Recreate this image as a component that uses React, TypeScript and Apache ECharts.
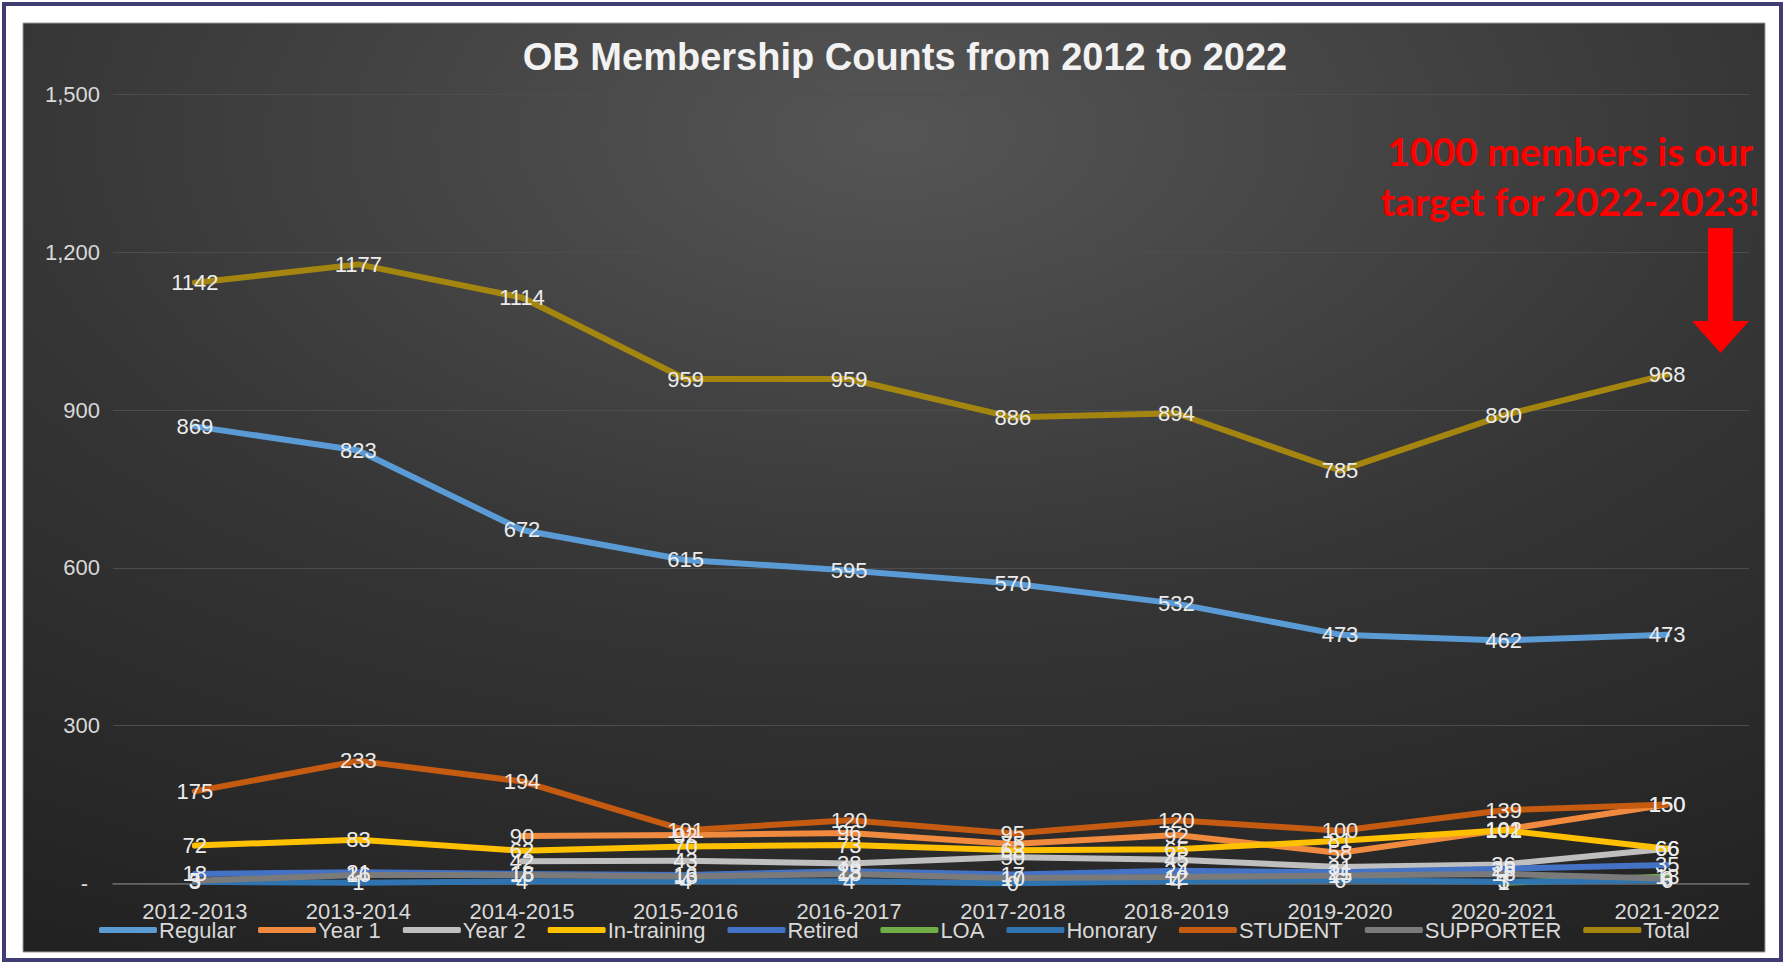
import React, { useEffect, useRef } from 'react';
import * as echarts from 'echarts';

const categories = ['2012-2013', '2013-2014', '2014-2015', '2015-2016', '2016-2017', '2017-2018', '2018-2019', '2019-2020', '2020-2021', '2021-2022'];
const regular = [869, 823, 672, 615, 595, 570, 532, 473, 462, 473];
const year1 = [null, null, 90, 92, 96, 75, 92, 58, 102, 150];
const year2 = [null, null, 42, 43, 38, 50, 45, 31, 36, 66];
const inTraining = [72, 83, 62, 70, 73, 63, 65, 81, 101, 66];
const retired = [18, 21, 18, 16, 23, 17, 24, 21, 28, 35];
const loa = [null, null, null, null, null, null, null, null, 1, 13];
const honorary = [3, 1, 4, 4, 4, 0, 4, 6, 3, 6];
const student = [175, 233, 194, 101, 120, 95, 120, 100, 139, 150];
const supporter = [5, 16, 16, 13, 18, 10, 12, 15, 18, 9];
const total = [1142, 1177, 1114, 959, 959, 886, 894, 785, 890, 968];

const yTicks = { min: 0, max: 1500, interval: 300 };

const seriesDefs = [
  { name: 'Regular', data: regular, color: '#5b9bd5' },
  { name: 'Year 1', data: year1, color: '#f08a3e' },
  { name: 'Year 2', data: year2, color: '#bfbfbf' },
  { name: 'In-training', data: inTraining, color: '#ffc000' },
  { name: 'Retired', data: retired, color: '#4472c4' },
  { name: 'LOA', data: loa, color: '#70ad47' },
  { name: 'Honorary', data: honorary, color: '#2f73b0' },
  { name: 'STUDENT', data: student, color: '#c55a11' },
  { name: 'SUPPORTER', data: supporter, color: '#7a7a7a' },
  { name: 'Total', data: total, color: '#a3850f' },
];

const FONT = '"Liberation Sans", Arial, sans-serif';

export default function App() {
  const ref = useRef<HTMLDivElement>(null);
  useEffect(() => {
    if (!ref.current) return;
    const chart = echarts.init(ref.current, undefined, { renderer: 'svg' });
    const W = 1785;
    const H = 964;
    chart.setOption({
      animation: false,
      backgroundColor: '#ffffff',
      title: {
        text: 'OB Membership Counts from 2012 to 2022',
        left: 900,
        textAlign: 'center',
        top: 33,
        textStyle: { color: '#f2f2f2', fontSize: 38, fontWeight: 'bold', fontFamily: FONT },
      },
      graphic: [
        {
          type: 'rect', z: -20, silent: true,
          shape: { x: 4, y: 4, width: W - 8, height: H - 8 },
          style: { fill: '#ffffff', stroke: '#3f3d72', lineWidth: 4 },
        },
        {
          type: 'rect', z: -10, silent: true,
          shape: { x: 23, y: 23, width: 1742, height: 929 },
          style: {
            fill: new echarts.graphic.RadialGradient(0.5, 0.12, 1.15, [
              { offset: 0, color: '#555555' },
              { offset: 0.45, color: '#353535' },
              { offset: 1, color: '#1b1b1b' },
            ]),
            stroke: '#9a9a9a', lineWidth: 1,
          },
        },
        {
          type: 'text', z: 50, silent: true,
          style: {
            x: 1570, y: 151, text: '1000 members is our', fill: '#ff0000',
            font: 'bold 39px Lato, "Open Sans", sans-serif', align: 'center', verticalAlign: 'middle',
          },
        },
        {
          type: 'text', z: 50, silent: true,
          style: {
            x: 1570, y: 201, text: 'target for 2022-2023!', fill: '#ff0000',
            font: 'bold 39px Lato, "Open Sans", sans-serif', align: 'center', verticalAlign: 'middle',
          },
        },
        {
          type: 'rect', z: 50, silent: true,
          shape: { x: 1708, y: 228, width: 25, height: 96 },
          style: { fill: '#ff0000' },
        },
        {
          type: 'polygon', z: 50, silent: true,
          shape: { points: [[1692, 321], [1749, 321], [1720.5, 353]] },
          style: { fill: '#ff0000' },
        },
      ],
      legend: {
        left: 94,
        top: 914,
        itemGap: 22,
        itemWidth: 58,
        itemHeight: 6,
        icon: 'roundRect',
        textStyle: { color: '#d9d9d9', fontSize: 22, fontFamily: FONT, padding: [0, 0, 0, -3] },
        data: seriesDefs.map((s) => s.name),
      },
      grid: { left: 113, right: 36, top: 94.5, bottom: 80.6 },
      xAxis: {
        type: 'category',
        data: categories,
        boundaryGap: true,
        axisLine: { show: true, lineStyle: { color: '#6a6a6a', width: 1.5 } },
        axisTick: { show: false },
        axisLabel: { color: '#d9d9d9', fontSize: 22, fontFamily: FONT, margin: 17 },
        splitLine: { show: false },
      },
      yAxis: {
        type: 'value',
        min: yTicks.min,
        max: yTicks.max,
        interval: yTicks.interval,
        axisLine: { show: false },
        axisTick: { show: false },
        splitLine: { show: true, lineStyle: { color: '#4d4d4d', width: 1 } },
        axisLabel: {
          color: '#d9d9d9', fontSize: 22, fontFamily: FONT, margin: 13, align: 'right',
          formatter: (v: number) => (v === 0 ? '{d|-}' : v.toLocaleString('en-US')),
          rich: { d: { color: '#d9d9d9', fontSize: 22, fontFamily: FONT, padding: [0, 12, 0, 0] } },
        },
      },
      series: seriesDefs.map((s) => ({
        name: s.name,
        type: 'line',
        data: s.data,
        color: s.color,
        symbol: 'circle',
        symbolSize: 1,
        showSymbol: true,
        connectNulls: false,
        lineStyle: { color: s.color, width: 6, cap: 'round', join: 'round' },
        itemStyle: { color: s.color },
        label: {
          show: true,
          position: 'inside',
          color: '#ececec',
          fontSize: 22,
          fontFamily: FONT,
        },
        emphasis: { disabled: true },
      })),
    });
    return () => chart.dispose();
  }, []);
  return (
    <div
      ref={ref}
      style={{ position: 'fixed', left: 0, top: 0, width: 1785, height: 964 }}
    />
  );
}
